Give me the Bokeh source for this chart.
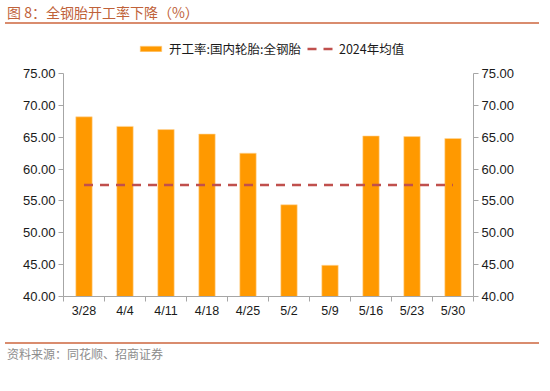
from bokeh.plotting import figure
from bokeh.models import (Range1d, LinearAxis, FixedTicker, NumeralTickFormatter,
                          Legend, LegendItem, Div, ColumnDataSource)
from bokeh.layouts import column
from bokeh.embed import file_html
from bokeh.resources import INLINE

# ---- data ----
categories = ["3/28", "4/4", "4/11", "4/18", "4/25", "5/2", "5/9", "5/16", "5/23", "5/30"]
operating_rate = [68.2, 66.7, 66.2, 65.5, 62.5, 54.4, 44.9, 65.2, 65.1, 64.8]
avg_2024 = 57.5
y_ticks = [40, 45, 50, 55, 60, 65, 70, 75]
series_name = "开工率:国内轮胎:全钢胎"
avg_name = "2024年均值"
title_text = "图 8：全钢胎开工率下降（%）"
source_text = "资料来源：同花顺、招商证券"

LATIN = "Liberation Sans"
CJK = "Noto Sans CJK SC"

# frame layout (pixels): axis spans 223 px, frame extends 38 px above it for the legend
AXIS_PX = 223
EXTRA_PX = 38
y_lo, y_hi = y_ticks[0], y_ticks[-1]
y_top = y_hi + (y_hi - y_lo) * EXTRA_PX / AXIS_PX

xs = [i + 0.5 for i in range(len(categories))]
src = ColumnDataSource(dict(x=xs, y=operating_rate, cat=categories))

p = figure(width=550, height=318, output_backend="svg", toolbar_location=None,
           x_range=Range1d(0, len(categories)), y_range=Range1d(y_lo, y_top),
           min_border_left=63, min_border_right=77, min_border_top=11, min_border_bottom=46,
           background_fill_color="white", border_fill_color="white")
p.outline_line_color = None
p.xgrid.visible = False
p.ygrid.visible = False

bars = p.vbar(x="x", top="y", bottom=y_lo, width=0.4, source=src,
              fill_color="#FF9900", line_color="#FFD9A0", line_width=0.6)
avg_line = p.line(x=[xs[0], xs[-1]], y=[avg_2024, avg_2024], line_color="#C0504D",
                  line_width=2.5, line_dash="9 7")

AXIS_COLOR = "#A6A6A6"
LABEL_COLOR = "#1A1A1A"

# x axis
xa = p.xaxis[0]
xa.ticker = FixedTicker(ticks=xs, minor_ticks=list(range(len(categories) + 1)))
xa.major_label_overrides = {x: c for x, c in zip(xs, categories)}
xa.major_tick_out = 0
xa.major_tick_in = 0
xa.minor_tick_out = 5
xa.minor_tick_in = 0
xa.minor_tick_line_color = AXIS_COLOR
xa.axis_line_color = AXIS_COLOR
xa.major_label_standoff = 2
xa.major_label_text_font = LATIN
xa.major_label_text_font_size = "12.5px"
xa.major_label_text_color = LABEL_COLOR

# y axes
def style_y(ax):
    ax.ticker = FixedTicker(ticks=y_ticks, minor_ticks=[])
    ax.formatter = NumeralTickFormatter(format="0.00")
    ax.bounds = (y_lo, y_hi)
    ax.axis_line_color = AXIS_COLOR
    ax.major_tick_line_color = AXIS_COLOR
    ax.major_tick_out = 5
    ax.major_tick_in = 0
    ax.minor_tick_line_color = None
    ax.major_label_standoff = 3
    ax.major_label_text_font = LATIN
    ax.major_label_text_font_size = "13px"
    ax.major_label_text_color = LABEL_COLOR

style_y(p.yaxis[0])
ry = LinearAxis()
style_y(ry)
p.add_layout(ry, "right")

legend = Legend(items=[LegendItem(label=series_name, renderers=[bars]),
                       LegendItem(label=avg_name, renderers=[avg_line])],
                orientation="horizontal", location=(74, 238),
                glyph_width=27, glyph_height=7, label_height=15,
                label_standoff=5, spacing=6, padding=0, margin=0,
                border_line_color=None, background_fill_alpha=0,
                label_text_font=CJK, label_text_font_size="12.5px",
                label_text_color=LABEL_COLOR)
p.add_layout(legend)

LINE_COLOR = "#D98C6E"
title_div = Div(text=title_text, width=534, height=24, margin=(0, 0, 0, 5),
                styles={"font-family": CJK, "font-size": "14px", "color": "#C0623A",
                        "border-bottom": f"2px solid {LINE_COLOR}", "line-height": "16px",
                        "padding-top": "4px", "padding-left": "2px",
                        "box-sizing": "border-box", "overflow": "visible"})
source_div = Div(text=source_text, width=534, height=24, margin=(0, 0, 0, 5),
                 styles={"font-family": CJK, "font-size": "12px", "color": "#8C8C8C",
                         "border-top": f"2px solid {LINE_COLOR}", "line-height": "14px",
                         "padding-top": "3px", "padding-left": "2px",
                         "box-sizing": "border-box", "overflow": "visible"})

layout = column(title_div, p, source_div, spacing=0)

open("out.html", "w").write(file_html(layout, INLINE))
